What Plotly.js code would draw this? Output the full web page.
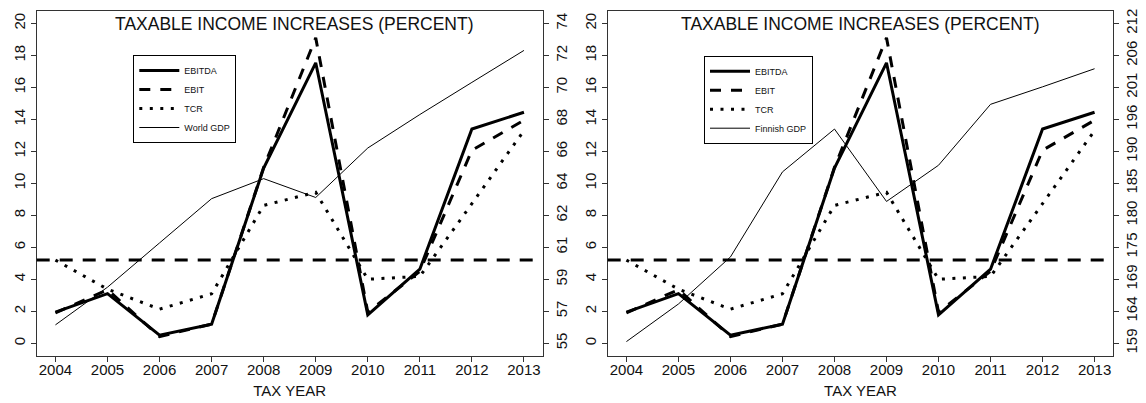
<!DOCTYPE html>
<html>
<head>
<meta charset="utf-8">
<script src="https://cdn.plot.ly/plotly-3.0.1.min.js"></script>
<style>html,body{margin:0;padding:0;background:#fff;}#chart{width:1146px;height:403px;}</style>
</head>
<body>
<div id="chart"></div>
<script>
// ---- data ----
var years = [2004, 2005, 2006, 2007, 2008, 2009, 2010, 2011, 2012, 2013];
var ebitda = [1.94, 3.10, 0.50, 1.19, 10.96, 17.54, 1.77, 4.63, 13.40, 14.45];
var ebit   = [1.90, 3.35, 0.42, 1.19, 11.00, 19.10, 1.94, 4.50, 12.07, 13.95];
var tcr    = [5.20, 3.38, 2.13, 3.09, 8.62, 9.44, 4.00, 4.18, 8.73, 13.30];
var worldGdp   = [56.09, 58.33, 60.96, 63.59, 64.78, 63.66, 66.60, 68.59, 70.50, 72.40];
var finnishGdp = [159.27, 165.50, 173.30, 187.40, 194.50, 182.50, 188.50, 198.60, 201.50, 204.50];
var threshold = 5.2;
var leftTicks = [0, 2, 4, 6, 8, 10, 12, 14, 16, 18, 20];
var worldTickText   = ['55', '57', '59', '61', '62', '64', '66', '68', '70', '72', '74'];
var finnishTickText = ['159', '164', '169', '175', '180', '185', '190', '196', '201', '206', '212'];
var worldRange = [55, 74];
var finnishRange = [159, 212];
var chartTitle = 'TAXABLE INCOME INCREASES (PERCENT)';
var xTitle = 'TAX YEAR';

// ---- helpers ----
var FONT = 'Liberation Sans, Arial, Helvetica, sans-serif';
var leftRange = [-0.8, 20.8];
function mapRange(r) { // map left-axis range onto secondary units
  var k = (r[1] - r[0]) / 20;
  return [r[0] + leftRange[0] * k, r[0] + leftRange[1] * k];
}
function mapTicks(r) {
  var k = (r[1] - r[0]) / 20;
  return leftTicks.map(function (t) { return r[0] + t * k; });
}

function series(xa, ya, gdp, gdpName, gdpAxis, legendId) {
  return [
    {x: years, y: ebitda, name: 'EBITDA', type: 'scatter', mode: 'lines', xaxis: xa, yaxis: ya, legend: legendId,
     line: {color: '#000', width: 3}},
    {x: years, y: ebit, name: 'EBIT', type: 'scatter', mode: 'lines', xaxis: xa, yaxis: ya, legend: legendId,
     line: {color: '#000', width: 3, dash: '11px,10px'}},
    {x: years, y: tcr, name: 'TCR', type: 'scatter', mode: 'lines', xaxis: xa, yaxis: ya, legend: legendId,
     line: {color: '#000', width: 3, dash: '3px,7.5px'}},
    {x: years, y: gdp, name: gdpName, type: 'scatter', mode: 'lines', xaxis: xa, yaxis: gdpAxis, legend: legendId,
     line: {color: '#000', width: 1}}
  ];
}

var data = [].concat(
  series('x', 'y', worldGdp, 'World GDP', 'y2', 'legend'),
  series('x2', 'y3', finnishGdp, 'Finnish GDP', 'y4', 'legend2')
);

var W = 1146, H = 403;
var yDom = [1 - 356 / H, 1 - 10.7 / H];
var xDomL = [36.7 / W, 542.7 / W];
var xDomR = [607.7 / W, 1113.3 / W];

function xaxisDef(dom, anchor) {
  return {
    domain: dom, anchor: anchor, range: [2003.64, 2013.36],
    tickvals: years, ticks: 'outside', ticklen: 5, tickcolor: '#333', tickwidth: 1,
    ticklabelstandoff: -5,
    showline: true, mirror: true, linecolor: '#333', linewidth: 1,
    showgrid: false, zeroline: false, automargin: false,
    tickfont: {family: FONT, size: 15, color: '#111'},
    title: {text: xTitle, font: {family: FONT, size: 15, color: '#111'}, standoff: 8}
  };
}
function yaxisDef(anchor) {
  return {
    domain: yDom, anchor: anchor, range: leftRange,
    tickvals: leftTicks, ticks: 'outside', ticklen: 5, tickcolor: '#333', tickwidth: 1,
    tickangle: -90, showline: true, mirror: true, linecolor: '#333', linewidth: 1,
    showgrid: false, zeroline: false, automargin: false,
    tickfont: {family: FONT, size: 15, color: '#111'}
  };
}
function y2Def(overlay, anchor, r, txt) {
  return {
    overlaying: overlay, side: 'right', anchor: anchor, range: mapRange(r),
    tickvals: mapTicks(r), ticktext: txt, ticks: 'outside', ticklen: 5, tickcolor: '#333', tickwidth: 1,
    tickangle: -90, showline: false, showgrid: false, zeroline: false, automargin: false,
    tickfont: {family: FONT, size: 15, color: '#111'}
  };
}
function legendDef(x, y) {
  return {
    x: x, y: y, xanchor: 'left', yanchor: 'top', xref: 'paper', yref: 'paper',
    bgcolor: '#fff', bordercolor: '#000', borderwidth: 1,
    font: {family: FONT, size: 9, color: '#111'}, tracegroupgap: 0, itemwidth: 40
  };
}

var layout = {
  width: W, height: H,
  margin: {l: 0, r: 0, t: 0, b: 0, pad: 0},
  paper_bgcolor: '#fff', plot_bgcolor: '#fff',
  font: {family: FONT, color: '#111'},
  showlegend: true,
  xaxis: xaxisDef(xDomL, 'y'),
  yaxis: yaxisDef('x'),
  yaxis2: y2Def('y', 'x', worldRange, worldTickText),
  xaxis2: xaxisDef(xDomR, 'y3'),
  yaxis3: yaxisDef('x2'),
  yaxis4: y2Def('y3', 'x2', finnishRange, finnishTickText),
  legend: legendDef(133.3 / W, 1 - 55 / H),
  legend2: legendDef(704 / W, 1 - 55.7 / H),
  shapes: [
    {type: 'line', xref: 'x domain', yref: 'y', x0: 0, x1: 1, y0: threshold, y1: threshold,
     line: {color: '#000', width: 3, dash: '13px,10px'}},
    {type: 'line', xref: 'x2 domain', yref: 'y3', x0: 0, x1: 1, y0: threshold, y1: threshold,
     line: {color: '#000', width: 3, dash: '13px,10px'}}
  ],
  annotations: [
    {text: chartTitle, xref: 'paper', yref: 'paper', x: 294 / W, y: 1 - 24 / H,
     xanchor: 'center', yanchor: 'middle', showarrow: false, font: {family: FONT, size: 17.5, color: '#111'}},
    {text: chartTitle, xref: 'paper', yref: 'paper', x: 860 / W, y: 1 - 24 / H,
     xanchor: 'center', yanchor: 'middle', showarrow: false, font: {family: FONT, size: 17.5, color: '#111'}}
  ]
};

Plotly.newPlot('chart', data, layout, {displayModeBar: false, staticPlot: true});
</script>
</body>
</html>
